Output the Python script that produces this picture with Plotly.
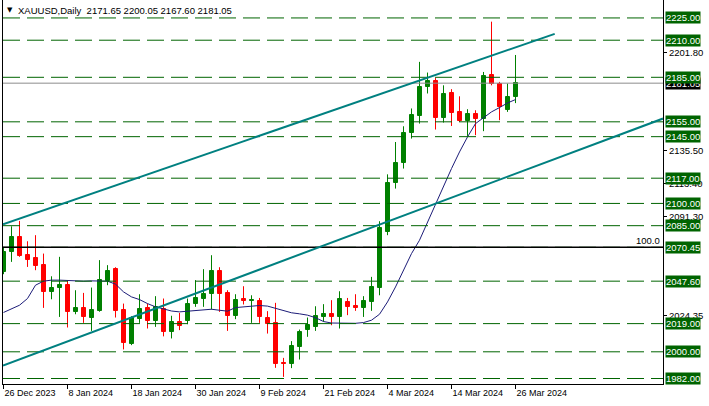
import plotly.graph_objects as go

# ---------------- data ----------------
tick_positions = [0, 8, 16, 24, 32, 40, 48, 56, 64]
tick_labels = ["26 Dec 2023", "8 Jan 2024", "18 Jan 2024", "30 Jan 2024", "9 Feb 2024",
               "21 Feb 2024", "4 Mar 2024", "14 Mar 2024", "26 Mar 2024"]

open_ = [2053.8, 2067.3, 2077.4, 2065.1, 2063.3, 2058.4, 2040.4, 2043.1, 2044.9, 2026.9,
         2029.2, 2022.8, 2027.6, 2047.6, 2055.6, 2028.0, 2005.1, 2022.4, 2029.6, 2020.9,
         2028.7, 2013.2, 2019.9, 2021.0, 2032.1, 2035.4, 2038.8, 2054.3, 2039.7, 2024.0,
         2035.4, 2034.4, 2034.1, 2023.1, 2019.1, 1992.5, 1991.5, 2003.3, 2015.0, 2016.4,
         2023.5, 2025.3, 2023.5, 2033.6, 2030.9, 2029.6, 2033.6, 2043.1, 2080.8, 2113.8,
         2127.3, 2147.5, 2158.8, 2178.5, 2182.3, 2157.7, 2174.5, 2161.7, 2155.6, 2160.1,
         2156.7, 2186.4, 2180.8, 2162.8, 2171.65]
high = [2070.0, 2084.6, 2088.2, 2074.5, 2078.6, 2066.2, 2050.9, 2064.0, 2048.0, 2041.5,
        2039.7, 2043.3, 2061.8, 2058.4, 2057.0, 2032.5, 2024.0, 2038.8, 2032.5, 2037.5,
        2035.9, 2024.3, 2026.2, 2035.9, 2048.3, 2055.7, 2065.1, 2057.0, 2041.5, 2038.8,
        2044.2, 2038.1, 2036.3, 2027.4, 2033.0, 1995.9, 2007.2, 2015.0, 2023.1, 2030.7,
        2032.1, 2034.8, 2040.8, 2036.3, 2038.8, 2037.5, 2050.5, 2088.0, 2119.6, 2141.4,
        2152.0, 2164.0, 2195.4, 2188.2, 2184.5, 2179.6, 2177.0, 2172.2, 2163.5, 2162.8,
        2188.6, 2222.5, 2181.9, 2180.8, 2200.05]
low = [2052.3, 2060.6, 2064.0, 2057.2, 2055.0, 2029.6, 2035.4, 2023.5, 2016.4, 2025.3,
       2019.5, 2014.1, 2027.0, 2044.9, 2023.1, 2001.6, 2004.5, 2019.5, 2015.7, 2016.8,
       2010.4, 2009.0, 2014.6, 2018.6, 2030.3, 2030.3, 2028.5, 2026.9, 2014.1, 2022.0,
       2031.9, 2019.5, 2019.5, 2012.3, 1989.2, 1983.1, 1989.0, 1994.8, 2010.1, 2014.1,
       2020.2, 2017.9, 2015.7, 2024.7, 2027.6, 2023.5, 2027.6, 2038.1, 2078.6, 2110.0,
       2123.5, 2143.7, 2153.8, 2174.1, 2149.8, 2154.5, 2152.2, 2154.9, 2145.5, 2146.0,
       2148.7, 2179.6, 2156.1, 2161.7, 2167.60]
close = [2067.3, 2077.4, 2064.6, 2061.7, 2057.9, 2040.4, 2043.1, 2044.9, 2026.9, 2029.2,
         2023.5, 2028.0, 2048.3, 2054.3, 2027.6, 2005.6, 2023.1, 2028.7, 2020.9, 2030.3,
         2013.2, 2020.2, 2017.7, 2032.1, 2036.3, 2038.8, 2054.3, 2038.8, 2024.0, 2035.2,
         2034.1, 2034.9, 2023.5, 2018.6, 1991.7, 1992.0, 2003.8, 2013.2, 2018.4, 2024.0,
         2025.3, 2023.5, 2035.4, 2030.3, 2029.6, 2034.1, 2043.7, 2083.5, 2113.6, 2127.1,
         2147.8, 2159.4, 2178.5, 2182.3, 2157.7, 2173.6, 2161.0, 2155.6, 2160.1, 2156.7,
         2185.7, 2180.8, 2165.0, 2171.4, 2181.05]
moving_avg = [2026.5, 2028.7, 2031.4, 2035.9, 2044.9, 2047.6, 2048.3, 2048.3, 2048.0, 2048.0,
              2047.6, 2047.8, 2047.8, 2047.6, 2045.6, 2040.4, 2037.0, 2035.2, 2032.5, 2030.3,
              2028.9, 2027.5, 2026.9, 2027.4, 2028.0, 2028.5, 2028.7, 2028.0, 2027.4, 2029.8,
              2030.3, 2030.5, 2031.2, 2030.8, 2029.2, 2027.6, 2026.3, 2025.6, 2024.7, 2023.0,
              2020.4, 2019.4, 2019.2, 2019.1, 2019.2, 2019.7, 2021.3, 2025.3, 2033.6, 2043.7,
              2055.5, 2066.2, 2075.2, 2087.5, 2099.9, 2112.3, 2123.5, 2134.7, 2144.8, 2153.8,
              2157.9, 2161.7, 2164.6, 2167.7, 2170.0]

level_prices = [2225.00, 2210.00, 2185.00, 2155.00, 2145.00, 2117.00, 2100.00, 2085.00,
                2070.45, 2047.60, 2019.00, 2000.00, 1982.00]
fib_level = 2070.45
fib_label = "100.0"
current_price = 2181.05
price_ticks = [2201.80, 2135.50, 2113.40, 2091.30, 2024.35]

upper_channel_x = [-0.06, 68.9]
upper_channel_y = [2085.9, 2214.3]
lower_channel_x = [-0.06, 82.44]
lower_channel_y = [1990.8, 2157.2]

symbol = "XAUUSD,Daily"
x_range = [-0.0625, 82.4375]
y_range = [1978.3, 2237.1]

# ---------------- styles ----------------
GREEN = "#008000"
RED = "#ff0000"
LEVEL_GREEN = "#006400"
TEAL = "#008080"
NAVY = "#1c1c78"
FONT = "Liberation Sans"
FS = 9.5

idx = list(range(len(close)))
fig = go.Figure()

for is_up, col in [(True, GREEN), (False, RED)]:
    sel = [i for i in idx if (close[i] >= open_[i]) == is_up]
    wx, wy = [], []
    for i in sel:
        wx += [i, i, None]
        wy += [low[i], high[i], None]
    fig.add_trace(go.Scatter(x=wx, y=wy, mode="lines", line=dict(color=col, width=1),
                             hoverinfo="skip", showlegend=False))
    fig.add_trace(go.Bar(x=sel, y=[abs(close[i] - open_[i]) for i in sel],
                         base=[min(open_[i], close[i]) for i in sel], width=0.5,
                         marker=dict(color=col, line=dict(color=col, width=1)),
                         showlegend=False, hoverinfo="skip"))

fig.add_trace(go.Scatter(x=idx, y=moving_avg, mode="lines", line=dict(color=NAVY, width=1),
                         showlegend=False, hoverinfo="skip"))

shapes = []
for lv in level_prices:
    shapes.append(dict(type="line", xref="paper", x0=0, x1=1, yref="y", y0=lv, y1=lv,
                       line=dict(color=LEVEL_GREEN, width=1, dash="17px,7px"), layer="above"))
shapes.append(dict(type="line", xref="paper", x0=0, x1=1, yref="y", y0=fib_level, y1=fib_level,
                   line=dict(color="black", width=1.5), layer="above"))
shapes.append(dict(type="line", xref="paper", x0=0, x1=1, yref="y", y0=current_price,
                   y1=current_price, line=dict(color="#8c8c8c", width=1), layer="above"))
shapes.append(dict(type="line", xref="x", yref="y", x0=upper_channel_x[0], x1=upper_channel_x[1],
                   y0=upper_channel_y[0], y1=upper_channel_y[1],
                   line=dict(color=TEAL, width=2), layer="above"))
shapes.append(dict(type="line", xref="x", yref="y", x0=lower_channel_x[0], x1=lower_channel_x[1],
                   y0=lower_channel_y[0], y1=lower_channel_y[1],
                   line=dict(color=TEAL, width=2), layer="above"))

annotations = []
annotations.append(dict(x=1, xref="paper", y=current_price, yref="y", text=f"{current_price:.2f}",
                        xanchor="left", yanchor="middle", xshift=2, showarrow=False,
                        font=dict(family=FONT, size=FS, color="white"), bgcolor="black", borderpad=0))
for lv in level_prices:
    annotations.append(dict(x=1, xref="paper", y=lv, yref="y", text=f"{lv:.2f}",
                            xanchor="left", yanchor="middle", xshift=2, showarrow=False,
                            font=dict(family=FONT, size=FS, color="white"),
                            bgcolor=LEVEL_GREEN, borderpad=0))
annotations.append(dict(x=1, xref="paper", y=fib_level, yref="y", text=fib_label,
                        xanchor="right", yanchor="bottom", xshift=-1, yshift=-1, showarrow=False,
                        font=dict(family=FONT, size=FS, color="black")))
annotations.append(dict(x=0, xref="paper", y=1, yref="paper", text="▼",
                        xanchor="left", yanchor="top", xshift=2, yshift=-4, showarrow=False,
                        font=dict(family="DejaVu Sans", size=7, color="black")))
title_text = f"{symbol}  {open_[-1]:.2f} {high[-1]:.2f} {low[-1]:.2f} {close[-1]:.2f}"
annotations.append(dict(x=0, xref="paper", y=1, yref="paper", text=title_text,
                        xanchor="left", yanchor="top", xshift=13, yshift=-3, showarrow=False,
                        font=dict(family=FONT, size=FS, color="black")))

fig.update_layout(
    width=709, height=406,
    margin=dict(l=3, r=46, t=0, b=22),
    plot_bgcolor="white", paper_bgcolor="white",
    barmode="overlay", bargap=0, showlegend=False,
    shapes=shapes, annotations=annotations,
    font=dict(family=FONT, size=FS, color="black"),
    xaxis=dict(range=x_range, tickvals=tick_positions, ticktext=tick_labels,
               ticks="outside", ticklen=4, tickcolor="black", tickwidth=1,
               ticklabelposition="outside right", showline=True, linecolor="black", linewidth=1,
               showgrid=False, zeroline=False, tickfont=dict(family=FONT, size=9, color="black")),
    yaxis=dict(range=y_range, side="right", tickvals=price_ticks,
               ticktext=[f"{t:.2f}" for t in price_ticks], ticks="outside", ticklen=3,
               tickcolor="black", showline=True, linecolor="black", linewidth=1, mirror=True,
               showgrid=False, zeroline=False, tickfont=dict(family=FONT, size=FS, color="black")),
)

fig.write_html(
    "out.html",
    config={"displayModeBar": False},
    post_script="document.body.style.margin='0';document.body.style.padding='0';",
)
